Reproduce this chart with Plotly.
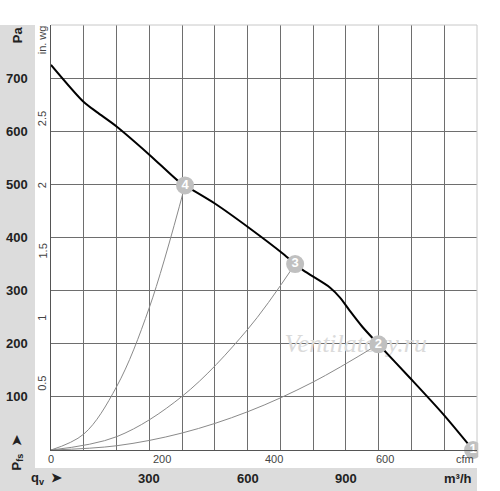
import plotly.graph_objects as go

# fan curve (m3/h, Pa)
flow = [0, 100, 140, 200, 300, 385, 409, 500, 607, 709, 745, 770, 851, 882, 912, 950, 999, 1095, 1196, 1288]
pressure = [725, 655, 636, 609, 556, 508, 498, 464, 417, 369, 350, 338, 306, 287, 262, 232, 199, 136, 68, 0]

# system curves through the operating points
sys4_q = [0, 100, 200, 300, 409]
sys4_p = [0, 30, 119, 268, 498]
sys3_q = [0, 200, 400, 600, 745]
sys3_p = [0, 25, 101, 227, 350]
sys2_q = [0, 200, 400, 600, 800, 999]
sys2_p = [0, 8, 32, 72, 128, 199]

# operating points
pt_labels = ["1", "2", "3", "4"]
pt_q = [1288, 999, 745, 409]
pt_p = [0, 199, 350, 498]

pa_ticks = [100, 200, 300, 400, 500, 600, 700]
inwg_ticks = [0.5, 1, 1.5, 2, 2.5]
cfm_ticks = [0, 200, 400, 600]
m3h_ticks = [300, 600, 900]

PA_PER_INWG = 249.09
M3H_PER_CFM = 1.699
FONT = "Arial, Liberation Sans, sans-serif"

fig = go.Figure()

# watermark, under the curves
fig.add_trace(go.Scatter(x=[930], y=[196], mode="text", text=["Ventilatory.ru"],
                         textfont=dict(family="Liberation Serif, serif", size=26, color="#dadada",
                                       style="italic"),
                         hoverinfo="skip", showlegend=False))

for q, p in [(sys4_q, sys4_p), (sys3_q, sys3_p), (sys2_q, sys2_p)]:
    fig.add_trace(go.Scatter(x=q, y=p, mode="lines", line=dict(color="#8a8a8a", width=1, shape="spline"),
                             hoverinfo="skip", showlegend=False))

fig.add_trace(go.Scatter(x=flow, y=pressure, mode="lines",
                         line=dict(color="black", width=2, shape="spline", smoothing=0.8),
                         showlegend=False))

fig.add_trace(go.Scatter(x=pt_q, y=pt_p, mode="markers+text", text=pt_labels,
                         marker=dict(size=18, color="#c0c0c0"),
                         textfont=dict(family=FONT, size=13, color="#ffffff", weight="bold"),
                         textposition="middle center", cliponaxis=False, showlegend=False))

ann = []
# Pa labels in grey band
for v in pa_ticks:
    ann.append(dict(x=-0.0798, xref="paper", y=v, yref="y", text=f"<b>{v}</b>", showarrow=False,
                    xanchor="center", yanchor="middle", font=dict(size=13, color="#222")))
# in. wg labels
for v in inwg_ticks:
    ann.append(dict(x=-0.0211, xref="paper", y=v * PA_PER_INWG, yref="y", text=str(v), showarrow=False,
                    xanchor="center", yanchor="middle", textangle=-90, font=dict(size=11, color="#444")))
# cfm labels
for v in cfm_ticks:
    ann.append(dict(x=v * M3H_PER_CFM, xref="x", y=-0.021, yref="paper", text=str(v), showarrow=False,
                    xanchor="center", yanchor="middle", font=dict(size=11, color="#444")))
# m3/h labels
for v in m3h_ticks:
    ann.append(dict(x=v, xref="x", y=-0.068, yref="paper", text=f"<b>{v}</b>", showarrow=False,
                    xanchor="center", yanchor="middle", font=dict(size=13, color="#222")))

ann += [
    dict(x=-0.0798, xref="paper", y=0.976, yref="paper", text="<b>Pa</b>", textangle=-90, showarrow=False,
         xanchor="center", yanchor="middle", font=dict(size=13, color="#222")),
    dict(x=-0.0211, xref="paper", y=0.964, yref="paper", text="in. wg", textangle=-90, showarrow=False,
         xanchor="center", yanchor="middle", font=dict(size=11, color="#444")),
    dict(x=-0.0798, xref="paper", y=-0.008, yref="paper", text="<b>P<sub>fs</sub>  ➤</b>", textangle=-90,
         showarrow=False, xanchor="center", yanchor="middle", font=dict(size=13, color="#222")),
    dict(x=-0.0094, xref="paper", y=-0.068, yref="paper", text="<b>q<sub>v</sub>  ➤</b>", showarrow=False,
         xanchor="center", yanchor="middle", font=dict(size=13, color="#222")),
    dict(x=0.955, xref="paper", y=-0.068, yref="paper", text="<b>m³/h</b>", showarrow=False,
         xanchor="center", yanchor="middle", font=dict(size=13, color="#222")),
    dict(x=0.972, xref="paper", y=-0.021, yref="paper", text="cfm", showarrow=False,
         xanchor="center", yanchor="middle", font=dict(size=11, color="#444")),
]

shapes = [
    # grey bands
    dict(type="rect", xref="paper", yref="paper", x0=-0.1197, x1=-0.0376, y0=-0.1, y1=1.0,
         fillcolor="#dcdcdc", line_width=0, layer="below"),
    dict(type="rect", xref="paper", yref="paper", x0=-0.1197, x1=1.0, y0=-0.1, y1=-0.0424,
         fillcolor="#dcdcdc", line_width=0, layer="below"),
    # white strip right of the frame, cuts marker 1 like the original
    dict(type="rect", xref="paper", yref="paper", x0=1.003, x1=1.06, y0=-0.0424, y1=1.0,
         fillcolor="white", line_width=0, layer="above"),
    # light frame top/right
    dict(type="line", xref="paper", yref="paper", x0=0, x1=1, y0=1, y1=1, line=dict(color="#c8c8c8", width=1)),
    dict(type="line", xref="paper", yref="paper", x0=1, x1=1, y0=0, y1=1, line=dict(color="#c8c8c8", width=1)),
]

fig.update_layout(
    width=500, height=491,
    margin=dict(l=51, r=23, t=25, b=41),
    paper_bgcolor="white", plot_bgcolor="white",
    font=dict(family=FONT),
    annotations=ann, shapes=shapes,
    showlegend=False,
    xaxis=dict(range=[0, 1300], tickvals=list(range(100, 1300, 100)), showticklabels=False,
               showgrid=True, gridcolor="#6e6e6e", gridwidth=1, zeroline=False,
               showline=True, linecolor="#555", linewidth=1, ticks=""),
    yaxis=dict(range=[0, 800], tickvals=list(range(100, 800, 100)), showticklabels=False,
               showgrid=True, gridcolor="#6e6e6e", gridwidth=1, zeroline=False,
               showline=True, linecolor="#555", linewidth=1, ticks=""),
)

fig.write_html("out.html", config={"displayModeBar": False},
               post_script="document.body.style.margin='0';")
